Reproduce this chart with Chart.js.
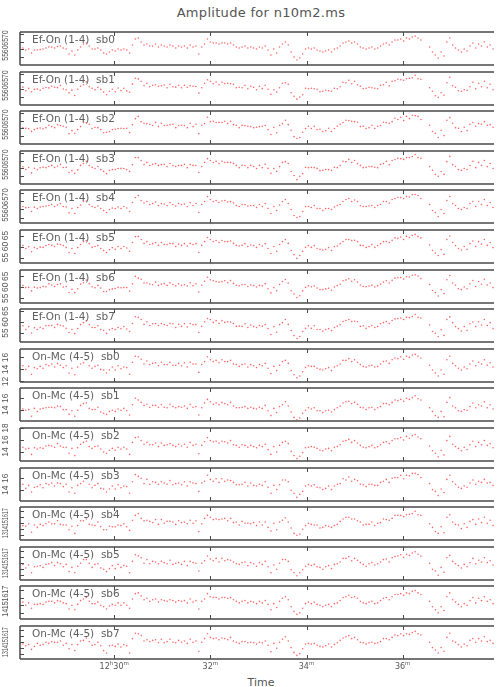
<!DOCTYPE html>
<html>
<head>
<meta charset="utf-8">
<script src="https://cdn.jsdelivr.net/npm/chart.js@4.4.1/dist/chart.umd.min.js"></script>
<style>
    html, body { margin: 0; padding: 0; background: #fff; overflow: hidden; }
    #page { position: relative; width: 498px; height: 687px; }
    #page canvas { position: absolute; left: 0; }
    #title { position: absolute; left: 0; width: 522px; top: 5px; text-align: center;
             font: 13px/15px "DejaVu Sans", sans-serif; color: #555; letter-spacing: 0.3px; }
    #xtitle { position: absolute; left: 0; width: 522px; top: 676px; text-align: center;
              font: 11px/13px "DejaVu Sans", sans-serif; color: #555; }
</style>
</head>
<body>
<div id="page">
    <div id="title">Amplitude for n10m2.ms</div>
    <div id="xtitle">Time</div>
</div>
<script>
// sample times, minutes after 12h
const times = [
    28.10,28.16,28.22,28.28,28.34,28.40,28.46,28.52,28.58,28.64,
    28.70,28.76,28.82,28.88,28.94,29.00,29.06,29.12,29.18,29.24,
    29.30,29.36,29.42,29.48,29.54,29.60,29.66,29.72,29.78,29.84,
    29.90,29.96,30.02,30.08,30.14,30.20,30.26,30.32,30.38,30.44,
    30.50,30.56,30.62,30.68,30.74,30.80,30.86,30.92,30.98,31.04,
    31.10,31.16,31.22,31.28,31.34,31.40,31.46,31.52,31.58,31.64,
    31.70,31.76,31.82,31.88,31.94,32.00,32.06,32.12,32.18,32.24,
    32.30,32.36,32.42,32.48,32.54,32.60,32.66,32.72,32.78,32.84,
    32.90,32.96,33.02,33.08,33.14,33.20,33.26,33.32,33.38,33.44,
    33.50,33.56,33.62,33.68,33.74,33.80,33.86,33.92,33.98,34.04,
    34.10,34.16,34.22,34.28,34.34,34.40,34.46,34.52,34.58,34.64,
    34.70,34.76,34.82,34.88,34.94,35.00,35.06,35.12,35.18,35.24,
    35.30,35.36,35.42,35.48,35.54,35.60,35.66,35.72,35.78,35.84,
    35.90,35.96,36.02,36.08,36.14,36.20,36.26,36.32,36.38,36.44,
    36.50,36.56,36.62,36.68,36.74,36.80,36.86,36.92,36.98,37.04,
    37.10,37.16,37.22,37.28,37.34,37.40,37.46,37.52,37.58,37.64,
    37.70,37.76,37.82,37.88,37.94
];

const efOn0 = [
    60.8,59.5,60.2,57.5,59.5, 59.5,59.8,60.2,60.8,61.5, 61.5,60.8,61.8,62.2,60.8, 60.2,56.8,58.8,56.2,59.5,
    61.5,63.5,64.2,62.2,60.2, 60.2,60.8,59.5,57.5,56.8, 58.2,59.5,58.8,60.2,59.5, 60.2,59.5,57.5,62.8,66.8,
    67.5,64.8,62.8,63.5,62.2, 62.2,63.5,61.5,62.8,62.2, 61.5,62.8,62.2,60.8,62.2, 61.5,62.2,60.8,62.8,61.5,
    62.2,56.8,61.5,63.5,66.8, 64.8,64.2,64.2,63.5,64.2, 64.2,63.5,64.2,62.8,61.5, 60.8,61.5,62.2,60.8,61.5,
    60.8,60.2,61.5,60.8,62.2, 59.5,56.2,60.2,57.5,61.5, 63.5,64.8,62.8,58.2,54.8, 52.8,54.2,56.8,60.2,60.8,
    60.2,60.8,59.5,58.8,58.2, 58.8,59.5,58.2,60.2,60.8, 62.2,64.2,64.8,65.5,64.2, 64.8,63.5,61.5,60.8,60.2,
    60.8,61.5,60.2,60.8,62.2, 63.5,64.2,62.8,64.8,66.2, 66.2,66.8,65.5,67.5,66.8, 68.2,68.8,67.5,66.2,null,
    null,61.5,58.2,56.2,54.2, 58.2,55.5,64.8,67.5,62.8, 60.8,59.5,58.2,60.2,58.8, 62.2,64.2,60.8,63.5,62.2,
    64.8,61.5,62.8,60.2,62.2
];
const efOn1 = [
    61.4,59.0,60.6,58.3,59.9, 60.1,59.3,60.7,61.2,60.9, 62.0,61.3,61.1,62.6,60.2, 59.7,57.6,59.4,55.8,60.0,
    62.0,63.0,64.9,61.7,60.7, 59.6,61.3,59.9,58.1,56.3, 58.7,60.0,58.3,60.8,59.1, 60.7,58.9,58.0,63.4,67.3,
    66.9,65.3,62.3,64.0,61.7, 62.7,63.0,62.0,62.3,62.8, 61.0,63.3,61.7,61.4,62.7, 61.0,62.7,61.3,62.3,62.0,
    61.8,57.4,61.0,64.0,66.3, 65.3,63.7,64.8,63.0,64.7, 63.8,64.0,63.7,63.3,61.0, 61.3,61.0,62.7,60.3,62.0,
    61.3,59.7,62.0,60.4,62.7, 60.0,56.7,59.7,58.1,61.0, 64.0,64.3,63.3,57.7,55.3, 53.4,54.8,56.3,60.7,60.3,
    60.7,60.3,60.0,58.3,58.7, 59.3,59.0,58.7,60.7,60.3, 61.7,64.7,64.3,66.0,63.7, 65.3,63.0,62.0,60.3,60.7,
    61.3,61.0,60.7,60.3,62.7, 63.0,64.7,62.3,65.3,65.7, 66.7,66.3,66.0,67.0,67.3, 67.7,69.3,67.0,66.7,null,
    null,61.0,58.7,55.7,54.7, 57.7,56.0,64.3,68.0,62.3, 61.3,59.0,58.7,59.7,59.3, 61.7,64.7,60.3,64.0,61.7,
    65.3,61.0,63.3,59.7,62.7
];
const efOn2 = [
    60.3,59.9,59.7,57.9,59.1, 59.9,60.2,59.7,60.4,62.0, 61.1,60.4,62.3,61.8,61.3, 60.7,56.4,58.4,56.7,59.1,
    61.1,63.9,63.7,62.7,59.8, 60.7,60.4,59.1,57.0,57.3, 57.8,59.1,59.3,59.8,60.0, 59.8,60.0,57.1,62.4,66.4,
    67.9,64.4,63.3,63.1,62.7, 61.8,63.9,61.1,63.3,61.8, 62.0,62.4,62.7,60.4,61.8, 62.0,61.8,60.4,63.3,61.1,
    62.7,56.4,62.0,63.1,67.3, 64.4,64.7,63.8,63.9,63.8, 64.7,63.1,64.7,62.4,62.0, 60.4,61.9,61.8,61.3,61.1,
    60.4,60.7,61.1,61.3,61.8, 59.1,55.8,60.7,57.0,62.0, 63.1,65.3,62.4,58.7,54.4, 53.2,53.8,57.3,59.8,61.3,
    59.8,61.3,59.1,59.3,57.8, 58.4,60.0,57.8,59.8,61.3, 62.7,63.8,65.3,65.1,64.7, 64.4,64.0,61.1,61.3,59.8,
    60.4,62.0,59.8,61.3,61.8, 64.0,63.8,63.3,64.4,66.7, 65.8,67.3,65.1,67.9,66.4, 68.7,68.4,67.9,65.8,null,
    null,62.0,57.8,56.7,53.8, 58.7,55.1,65.3,67.1,63.3, 60.4,60.0,57.8,60.7,58.4, 62.7,63.8,61.3,63.1,62.7,
    64.4,62.0,62.4,60.7,61.8
];
const efOn3 = [
    61.0,59.2,60.5,56.9,60.0, 59.0,60.3,60.6,60.4,61.2, 61.9,60.5,61.5,62.6,60.5, 60.6,57.2,58.4,56.6,58.9,
    61.9,63.2,64.6,61.8,60.6, 59.8,61.2,59.1,57.9,56.4, 58.6,59.1,59.2,59.8,59.9, 59.8,59.1,57.9,62.4,67.2,
    67.1,65.2,62.4,63.9,61.8, 62.6,63.1,61.9,62.4,62.6, 61.1,63.2,61.8,61.2,61.8, 61.9,62.6,60.4,62.4,61.9,
    61.8,57.2,61.1,63.9,66.4, 65.2,63.8,64.6,63.1,64.6, 63.8,63.9,63.8,63.2,61.9, 60.4,61.9,61.8,60.4,61.9,
    61.2,59.8,61.9,60.4,62.6, 59.9,56.6,59.8,57.9,61.1, 63.9,64.4,63.2,57.8,55.2, 52.4,54.6,56.4,60.6,60.4,
    60.6,60.4,59.9,58.4,58.6, 59.2,59.1,58.6,60.6,60.4, 61.8,64.6,64.4,65.9,63.8, 65.2,63.1,61.9,60.4,60.6,
    61.2,61.1,60.6,60.4,62.6, 63.1,64.6,62.4,65.2,65.8, 66.6,66.4,65.9,67.1,67.2, 67.8,69.2,67.1,66.6,null,
    null,61.1,58.6,55.8,54.6, 57.8,55.9,64.4,67.9,62.4, 61.2,59.1,58.6,59.8,59.2, 61.8,64.6,60.4,63.9,61.8,
    65.2,61.1,63.2,59.8,62.6
];
const efOn4 = [
    61.6,60.9,61.0,58.6,61.2, 60.4,61.3,61.6,61.9,62.2, 62.8,61.6,62.5,63.4,61.6, 61.3,57.8,60.4,57.4,61.0,
    62.5,64.6,64.9,62.8,61.6, 61.0,61.9,60.4,59.2,58.0, 59.8,60.7,60.4,61.3,60.4, 61.6,60.7,58.6,64.0,67.0,
    68.2,65.2,63.7,64.6,62.8, 63.4,64.3,62.2,63.4,63.1, 62.2,64.0,62.8,61.9,63.4, 62.8,63.1,61.6,64.0,62.2,
    63.4,58.0,62.8,64.6,67.6, 65.8,64.6,65.2,64.0,64.9, 65.2,64.3,64.6,63.7,62.2, 61.6,62.8,62.8,61.9,62.2,
    62.2,61.0,62.8,61.6,63.4, 60.4,57.4,61.6,59.2,62.5, 64.6,65.8,63.4,59.8,56.2, 55.0,55.6,58.6,61.6,61.6,
    61.0,62.2,60.4,60.4,59.2, 60.4,60.4,59.8,61.3,62.2, 62.8,64.6,65.8,66.4,64.6, 65.5,64.6,62.2,61.6,61.6,
    61.9,62.2,61.0,62.2,62.8, 64.6,64.6,63.7,65.8,66.4, 67.0,67.0,66.4,67.6,67.3, 68.8,68.8,68.2,66.4,null,
    null,62.8,59.2,58.0,55.6, 59.8,57.4,65.2,67.6,63.4, 62.2,60.4,59.8,61.0,60.4, 63.4,64.6,61.6,64.6,62.8,
    65.8,62.2,64.0,61.0,63.4
];
const efOn5 = [
    60.4,59.1,59.9,57.6,59.5, 59.1,59.7,59.6,60.4,60.9, 60.5,60.0,61.1,60.9,60.4, 59.6,57.3,59.1,56.8,59.5,
    60.9,62.2,62.7,61.3,59.6, 60.0,60.4,59.1,58.2,57.3, 58.6,59.5,58.7,60.0,59.1, 60.0,59.3,57.8,61.8,64.5,
    64.6,63.2,61.4,62.2,60.9, 61.3,61.8,60.5,61.8,60.9, 60.9,61.4,61.3,60.0,61.1, 60.5,61.3,60.2,61.4,60.9,
    61.3,57.3,60.5,62.2,64.1, 63.2,62.3,62.7,61.8,62.7, 62.3,62.2,62.5,61.4,60.5, 60.2,60.5,61.3,60.0,60.7,
    60.4,59.6,60.9,60.2,61.3, 59.1,56.8,60.0,57.8,60.9, 62.2,63.2,61.4,58.2,56.3, 54.6,55.9,57.8,59.6,60.4,
    59.6,60.4,59.1,58.7,58.4, 58.7,59.5,58.2,60.0,60.2, 61.3,62.3,63.2,63.2,62.7, 62.8,62.2,60.5,60.4,59.6,
    60.0,60.9,59.6,60.4,61.3, 62.2,62.3,61.8,62.8,63.9, 63.7,64.3,63.2,64.6,64.1, 65.0,65.5,64.6,63.9,null,
    null,60.7,58.2,57.0,55.9, 58.6,56.4,63.2,64.8,61.8, 60.4,59.1,58.4,60.0,58.7, 61.3,62.5,60.0,62.2,61.1,
    63.2,60.5,61.8,59.5,60.9
];
const efOn6 = [
    60.7,59.8,59.9,58.3,60.0, 59.6,59.8,60.3,60.2,61.5, 61.0,60.3,61.2,61.5,60.1, 60.3,57.6,59.0,57.5,59.3,
    61.4,62.0,63.2,61.6,60.2, 59.7,60.8,59.6,58.0,58.0, 58.9,59.2,59.4,59.9,59.7, 59.8,59.8,58.2,61.5,64.9,
    64.1,63.6,61.9,61.9,61.4, 61.1,62.3,60.8,61.4,61.6, 60.8,62.0,61.2,60.6,61.5, 60.9,61.1,60.5,62.0,60.6,
    61.5,57.8,60.9,62.7,64.5, 63.4,62.9,62.6,62.3,62.5, 62.9,62.0,63.0,61.7,60.9, 60.6,61.1,61.2,60.3,61.0,
    60.7,60.1,60.8,60.6,61.6, 59.3,57.4,59.8,58.4,61.2, 62.6,63.5,61.9,58.4,56.9, 55.3,56.1,58.3,59.9,60.6,
    60.2,60.5,59.6,58.9,58.9, 59.2,59.5,58.6,60.1,60.7, 61.3,62.9,63.3,63.8,62.7, 63.4,62.3,61.0,60.3,60.2,
    60.5,60.9,60.1,60.6,61.4, 62.3,62.9,61.9,63.1,64.1, 64.3,64.4,63.7,64.7,64.6, 65.4,65.6,65.1,63.9,null,
    null,61.2,58.5,57.6,56.0, 58.9,57.1,63.4,65.3,61.9, 60.9,59.3,58.9,60.1,59.3, 61.5,63.0,60.3,62.6,61.3,
    63.6,61.0,61.9,59.8,61.4
];
const efOn7 = [
    58.3,56.6,57.9,55.0,57.4, 56.6,57.6,57.0,58.3,58.4, 58.4,57.5,58.9,58.5,58.2, 57.1,55.2,56.6,54.7,57.0,
    58.8,59.7,60.6,58.8,57.5, 57.5,58.3,56.6,56.1,54.8, 56.5,57.0,56.6,57.5,56.9, 57.9,56.8,55.7,59.3,62.4,
    62.1,61.1,58.9,60.1,58.4, 59.2,59.3,58.4,59.3,58.8, 58.4,59.3,59.2,57.5,59.0, 58.0,59.2,57.7,59.3,58.8,
    58.8,55.2,58.0,60.1,61.6, 61.1,59.8,60.6,59.3,60.6, 59.8,60.1,60.0,59.3,58.0, 58.1,58.0,59.2,57.5,58.6,
    57.9,57.5,58.4,58.1,58.8, 57.0,54.3,57.9,55.3,58.8, 59.7,61.1,58.9,56.1,53.8, 52.5,53.4,55.7,57.1,58.3,
    57.1,58.3,56.6,56.6,55.9, 56.6,57.0,56.1,57.5,58.1, 58.8,60.2,60.7,61.1,60.2, 60.3,60.1,58.0,58.3,57.1,
    57.9,58.4,57.5,57.9,59.2, 59.7,60.2,59.3,60.7,61.4, 61.6,61.8,61.1,62.1,62.0, 62.5,63.4,62.1,61.8,null,
    null,58.6,55.7,54.9,53.4, 56.5,53.9,61.1,62.3,59.7, 57.9,57.0,55.9,57.9,56.2, 59.2,60.0,57.9,60.1,58.6,
    61.1,58.4,59.7,57.0,58.8
];
const onMc0 = [
    14.6,14.0,14.5,13.2,14.3, 14.1,14.5,14.2,14.8,14.6, 14.9,14.4,15.0,14.7,14.3, 14.6,13.4,14.2,13.1,14.4,
    14.9,15.1,15.6,14.6,14.2, 14.5,14.7,14.0,13.9,13.4, 13.9,14.4,13.9,14.6,14.1, 14.4,14.3,13.2,15.2,16.2,
    16.1,15.7,14.9,15.4,14.8, 15.0,15.1,14.6,15.2,14.8, 14.8,15.2,14.7,14.7,15.0, 14.6,15.1,14.4,15.2,14.9,
    14.9,13.5,14.8,15.3,16.1, 15.6,15.3,15.5,15.1,15.6, 15.3,15.3,15.5,14.9,14.8, 14.5,14.8,14.9,14.4,14.8,
    14.6,14.3,14.8,14.6,15.0, 14.2,13.3,14.5,13.8,14.7, 15.3,15.5,15.0,13.8,13.1, 12.6,12.9,13.6,14.3,14.6,
    14.5,14.5,14.2,14.0,13.9, 14.1,14.3,13.8,14.4,14.6, 14.9,15.5,15.5,15.8,15.3, 15.6,15.2,14.8,14.5,14.4,
    14.6,14.7,14.4,14.5,14.9, 15.3,15.4,15.0,15.6,15.9, 15.8,16.1,15.7,16.2,16.0, 16.4,16.5,16.2,15.9,null,
    null,14.7,13.9,13.4,12.9, 13.9,13.2,15.6,16.2,15.0, 14.6,14.2,13.9,14.4,14.1, 14.9,15.4,14.6,15.2,14.9,
    15.6,14.7,15.1,14.4,14.9
];
const onMc1 = [
    14.2,14.0,14.1,13.0,14.3, 13.8,14.2,14.3,14.4,14.5, 14.5,14.4,14.7,14.6,14.1, 14.1,13.3,13.9,13.0,14.0,
    14.8,15.1,15.2,14.3,14.1, 14.1,14.5,13.7,13.5,13.3, 13.8,14.0,13.8,14.2,14.0, 14.3,13.9,13.2,14.9,16.0,
    15.7,15.3,14.8,15.0,14.5, 14.8,14.8,14.5,14.9,14.5, 14.4,15.0,14.6,14.4,14.6, 14.5,14.7,14.3,15.0,14.5,
    14.6,13.2,14.4,15.2,15.8, 15.4,15.0,15.2,14.9,15.3, 15.1,14.9,15.3,14.7,14.4, 14.4,14.5,14.6,14.3,14.5,
    14.3,14.2,14.5,14.3,14.8, 13.9,13.1,14.3,13.6,14.6, 14.9,15.4,14.7,13.7,12.8, 12.4,12.7,13.5,14.0,14.4,
    14.2,14.4,13.9,13.9,13.6, 13.9,14.0,13.7,14.1,14.4, 14.7,15.2,15.4,15.5,15.1, 15.3,15.0,14.5,14.4,14.1,
    14.4,14.5,14.1,14.4,14.6, 15.1,15.1,14.9,15.3,15.7, 15.6,15.8,15.5,16.0,15.8, 16.1,16.4,15.9,15.7,null,
    null,14.4,13.8,13.1,12.8, 13.8,12.9,15.3,16.1,14.7, 14.4,13.9,13.8,14.1,14.0, 14.6,15.2,14.4,14.9,14.7,
    15.4,14.4,14.9,14.2,14.7
];
const onMc2 = [
    14.8,14.5,14.6,13.6,14.7, 14.5,14.7,14.6,15.0,15.1, 15.0,14.8,15.4,15.0,14.8, 14.8,13.8,14.6,13.4,14.7,
    15.3,15.6,15.8,14.9,14.6, 14.9,15.0,14.5,14.0,13.8, 14.3,14.6,14.3,14.8,14.5, 14.8,14.5,13.6,15.6,16.4,
    16.5,15.9,15.3,15.6,15.2, 15.2,15.5,14.9,15.5,15.1, 15.2,15.4,15.1,14.9,15.3, 15.0,15.3,14.8,15.6,15.1,
    15.3,13.7,15.1,15.7,16.4, 15.9,15.7,15.8,15.5,15.8, 15.7,15.5,15.9,15.2,15.1, 14.8,15.2,15.1,14.8,15.1,
    14.9,14.7,15.1,14.9,15.3, 14.4,13.6,14.9,14.0,15.1, 15.6,15.8,15.4,14.1,13.4, 12.9,13.3,13.9,14.7,14.8,
    14.9,14.8,14.6,14.3,14.2, 14.5,14.6,14.2,14.8,14.9, 15.2,15.8,15.9,16.1,15.6, 15.9,15.5,15.1,14.8,14.7,
    14.9,15.1,14.7,14.9,15.2, 15.6,15.7,15.4,15.9,16.2, 16.2,16.4,16.0,16.6,16.3, 16.7,16.9,16.5,16.2,null,
    null,15.0,14.2,13.8,13.2, 14.3,13.5,15.9,16.6,15.3, 14.9,14.6,14.2,14.8,14.4, 15.2,15.8,14.9,15.6,15.2,
    15.9,15.1,15.4,14.7,15.3
];
const onMc3 = [
    15.0,14.3,14.8,13.7,14.5, 14.6,14.9,14.4,15.1,14.9, 15.2,14.7,15.2,15.1,14.6, 15.0,13.7,14.4,13.5,14.8,
    15.1,15.5,15.9,15.0,14.4, 14.8,15.1,14.3,14.2,13.7, 14.2,14.7,14.2,14.9,14.4, 14.7,14.6,13.5,15.4,16.6,
    16.3,16.0,15.1,15.8,15.0, 15.4,15.3,15.0,15.4,15.2, 15.0,15.6,14.9,15.1,15.2, 14.9,15.4,14.7,15.4,15.2,
    15.1,13.8,15.2,15.5,16.5, 15.8,15.5,15.9,15.3,15.9, 15.5,15.7,15.6,15.3,14.9, 14.9,15.0,15.3,14.7,15.2,
    14.8,14.7,15.0,14.8,15.4, 14.5,13.5,14.8,14.1,14.9, 15.7,15.7,15.4,14.0,13.5, 12.8,13.3,13.8,14.7,14.9,
    14.7,14.9,14.5,14.4,14.1, 14.3,14.7,14.1,14.7,15.0, 15.1,15.9,15.7,16.2,15.5, 15.8,15.6,15.0,14.9,14.6,
    15.0,15.0,14.8,14.8,15.3, 15.5,15.8,15.3,16.0,16.1, 16.1,16.5,15.9,16.5,16.4, 16.8,16.8,16.6,16.1,null,
    null,15.1,14.1,13.8,13.1, 14.2,13.6,15.8,16.5,15.4, 15.0,14.5,14.3,14.7,14.5, 15.2,15.7,15.0,15.5,15.3,
    15.8,15.2,15.3,14.8,15.2
];
const onMc4 = [
    14.6,14.5,14.9,13.5,14.7, 14.3,14.8,14.6,14.9,15.2, 14.9,14.9,15.4,14.8,14.7, 14.7,13.9,14.5,13.3,14.6,
    15.4,15.4,15.7,14.8,14.7, 14.6,15.2,14.4,13.9,13.9, 14.5,14.4,14.4,14.7,14.6, 14.9,14.4,13.8,15.5,16.3,
    16.6,15.8,15.4,15.5,15.3, 15.1,15.6,14.8,15.6,15.0, 15.3,15.3,15.2,14.8,15.4, 15.1,15.2,14.9,15.5,15.0,
    15.4,13.6,14.9,15.8,16.3, 16.0,15.6,15.7,15.6,15.7, 15.8,15.4,15.8,15.1,15.2, 14.7,15.3,15.0,15.0,14.9,
    15.1,14.6,15.2,14.7,15.2, 14.3,13.7,15.0,13.9,15.2, 15.5,15.9,15.2,14.2,13.3, 13.0,13.2,14.0,14.6,15.0,
    14.8,14.7,14.7,14.2,14.3, 14.6,14.5,14.3,14.6,14.8, 15.3,15.7,16.0,16.0,15.7, 15.7,15.4,15.2,14.7,14.8,
    14.8,15.2,14.6,15.0,15.1, 15.7,15.6,15.5,15.8,16.3, 16.3,16.3,16.1,16.4,16.5, 16.6,17.0,16.4,16.3,null,
    null,14.9,14.3,13.6,13.3, 14.4,13.4,16.0,16.4,15.2, 14.8,14.7,14.1,14.9,14.3, 15.3,15.6,14.8,15.7,15.1,
    16.0,15.0,15.5,14.6,15.4
];
const onMc5 = [
    14.8,14.2,14.7,13.4,14.4, 14.5,14.6,14.3,14.8,14.9, 15.1,14.6,15.1,14.9,14.4, 14.8,13.6,14.3,13.4,14.5,
    15.0,15.6,15.6,15.0,14.3, 14.8,14.9,14.2,14.0,13.6, 14.1,14.6,14.1,14.8,14.3, 14.6,14.5,13.4,15.3,16.4,
    16.2,15.9,15.0,15.6,14.9, 15.3,15.2,14.9,15.3,15.1, 14.9,15.5,14.8,15.0,15.1, 14.8,15.3,14.6,15.3,15.1,
    15.0,13.7,15.0,15.4,16.2, 15.7,15.4,15.8,15.2,15.8, 15.4,15.6,15.5,15.2,14.9, 14.8,15.1,15.2,14.6,15.1,
    14.9,14.5,15.1,14.8,15.3, 14.4,13.4,14.7,14.0,15.0, 15.6,15.6,15.3,13.9,13.4, 12.9,13.4,13.9,14.5,14.8,
    14.6,14.8,14.4,14.3,14.0, 14.4,14.6,14.1,14.8,14.9, 15.2,15.8,15.8,16.1,15.4, 15.8,15.5,15.1,14.8,14.5,
    14.9,15.1,14.7,14.9,15.2, 15.6,15.7,15.2,15.9,16.1, 16.2,16.4,16.0,16.5,16.3, 16.7,16.9,16.5,16.2,null,
    null,15.0,14.0,13.7,13.0, 14.3,13.5,15.9,16.3,15.3, 14.9,14.6,14.2,14.8,14.4, 15.1,15.8,14.9,15.5,15.2,
    15.9,15.1,15.4,14.7,15.3
];
const onMc6 = [
    15.4,15.0,15.3,14.6,15.1, 15.1,15.2,15.1,15.4,15.5, 15.5,15.3,15.6,15.5,15.3, 15.2,14.5,15.0,14.4,15.1,
    15.6,15.8,16.0,15.5,15.2, 15.2,15.4,15.0,14.8,14.5, 14.9,15.1,15.0,15.3,15.0, 15.3,15.0,14.6,15.8,16.5,
    16.6,16.2,15.7,15.9,15.5, 15.7,15.8,15.4,15.7,15.6, 15.5,15.7,15.6,15.4,15.6, 15.5,15.6,15.3,15.8,15.4,
    15.6,14.5,15.5,15.8,16.5, 16.1,16.0,16.0,15.8,16.0, 16.0,15.9,16.0,15.7,15.5, 15.3,15.5,15.6,15.3,15.5,
    15.4,15.2,15.5,15.3,15.6, 15.1,14.4,15.2,14.7,15.5, 15.9,16.1,15.7,14.8,14.2, 13.8,14.0,14.6,15.2,15.4,
    15.2,15.4,15.1,15.0,14.8, 15.0,15.1,14.8,15.2,15.3, 15.6,16.0,16.1,16.3,16.0, 16.1,15.9,15.5,15.3,15.2,
    15.4,15.5,15.2,15.3,15.6, 15.9,16.0,15.7,16.1,16.4, 16.4,16.5,16.3,16.6,16.5, 16.8,16.9,16.6,16.4,null,
    null,15.5,14.8,14.4,14.0, 14.8,14.3,16.1,16.6,15.7, 15.4,15.1,14.8,15.2,15.0, 15.6,16.0,15.3,15.9,15.6,
    16.1,15.5,15.7,15.2,15.6
];
const onMc7 = [
    14.7,14.4,14.6,13.8,14.3, 14.8,14.5,14.6,15.0,14.8, 15.1,15.0,15.0,15.2,14.5, 14.8,13.9,14.6,13.6,14.6,
    15.2,15.3,15.7,15.1,14.5, 14.6,15.0,14.4,13.6,13.2, 14.4,14.5,14.3,14.7,14.2, 14.6,14.4,13.2,15.6,16.5,
    16.4,16.1,15.2,15.4,15.1, 15.3,15.4,14.9,15.5,14.9, 15.1,15.5,15.0,14.9,15.3, 15.0,15.2,14.8,15.5,15.0,
    15.2,13.5,15.0,15.6,16.4, 15.8,15.6,15.7,15.4,15.7, 15.6,15.4,15.8,15.2,15.0, 14.8,15.1,15.1,14.9,15.0,
    14.9,14.7,15.0,14.9,15.2, 14.5,13.4,14.8,14.0,15.0, 15.5,15.9,15.2,14.1,13.3, 12.8,13.1,13.9,14.7,14.8,
    14.7,14.8,14.5,14.3,14.2, 14.4,14.7,14.2,14.6,14.9, 15.3,15.7,15.9,16.1,15.6, 15.8,15.4,15.0,14.9,14.7,
    14.9,15.0,14.8,14.9,15.1, 15.6,15.6,15.4,15.8,16.2, 16.1,16.4,16.1,16.4,16.3, 16.6,16.8,16.4,16.2,null,
    null,15.0,14.1,13.7,13.2, 14.1,13.5,15.8,16.5,15.2, 15.0,14.6,14.2,14.7,14.4, 15.3,15.6,15.0,15.6,15.2,
    15.9,15.1,15.3,14.8,15.3
];

const panelLabels = [
    'Ef-On (1-4)  sb0', 'Ef-On (1-4)  sb1', 'Ef-On (1-4)  sb2', 'Ef-On (1-4)  sb3',
    'Ef-On (1-4)  sb4', 'Ef-On (1-4)  sb5', 'Ef-On (1-4)  sb6', 'Ef-On (1-4)  sb7',
    'On-Mc (4-5)  sb0', 'On-Mc (4-5)  sb1', 'On-Mc (4-5)  sb2', 'On-Mc (4-5)  sb3',
    'On-Mc (4-5)  sb4', 'On-Mc (4-5)  sb5', 'On-Mc (4-5)  sb6', 'On-Mc (4-5)  sb7'
];
const panelSeries = [efOn0, efOn1, efOn2, efOn3, efOn4, efOn5, efOn6, efOn7,
                     onMc0, onMc1, onMc2, onMc3, onMc4, onMc5, onMc6, onMc7];
const yMins = [49.5, 49.5, 49.5, 49.5, 51.7, 52.5, 52.8, 50.9,
               11.9, 12.2, 12.5, 12.2, 12.2, 12.2, 13.2, 12.2];
const yMaxs = [71.5, 71.5, 71.5, 71.5, 71.5, 67.5, 67.8, 65.9,
               17.4, 17.7, 18.0, 17.7, 17.7, 17.7, 17.5, 17.7];
const yTickValues = [
    [55, 60, 65, 70], [55, 60, 65, 70], [55, 60, 65, 70], [55, 60, 65, 70],
    [55, 60, 65, 70], [55, 60, 65], [55, 60, 65], [55, 60, 65],
    [12, 14, 16], [14, 16], [14, 16, 18], [14, 16],
    [13, 14, 15, 16, 17], [13, 14, 15, 16, 17], [14, 15, 16, 17], [13, 14, 15, 16, 17]
];
const xTicks = [30, 32, 34, 36];
const xTickLabels = ['12^h30^m', '32^m', '34^m', '36^m'];
const timeMin = 28.04;
const timeMax = 37.90;

// layout of the stacked panels
const firstPanelTop = 32;
const panelStep = 39.6;
const panelHeight = 33;
const pageHeight = 687;

// split '12^h30^m' into normal and superscript pieces
function labelPieces(label) {
    const pieces = [];
    let buf = '';
    for (let k = 0; k < label.length; k++) {
        if (label[k] === '^') {
            if (buf) pieces.push({ text: buf, sup: false });
            buf = '';
            pieces.push({ text: label[k + 1], sup: true });
            k++;
        } else {
            buf += label[k];
        }
    }
    if (buf) pieces.push({ text: buf, sup: false });
    return pieces;
}

function drawTimeLabels(ctx, xScale, area) {
    const mainFont = '8px "DejaVu Sans"';
    const supFont = '5.5px "DejaVu Sans"';
    ctx.textAlign = 'left';
    ctx.textBaseline = 'alphabetic';
    xTicks.forEach((t, k) => {
        const pieces = labelPieces(xTickLabels[k]);
        let width = 0;
        pieces.forEach(p => {
            ctx.font = p.sup ? supFont : mainFont;
            p.w = ctx.measureText(p.text).width;
            width += p.w;
        });
        let px = xScale.getPixelForValue(t) - width / 2;
        const base = area.bottom + 9.5;
        pieces.forEach(p => {
            ctx.font = p.sup ? supFont : mainFont;
            ctx.fillText(p.text, px, p.sup ? base - 3.5 : base);
            px += p.w;
        });
    });
}

const panelFrame = {
    id: 'panelFrame',
    afterDatasetsDraw(chart) {
        const i = chart.options.plugins.panelFrame.index;
        const { ctx, chartArea: a } = chart;
        const x = chart.scales.x;
        const y = chart.scales.y;
        ctx.save();

        // box: top, bottom and left edges
        ctx.strokeStyle = '#4a4a4a';
        ctx.lineWidth = 1.5;
        ctx.beginPath();
        ctx.moveTo(a.left, a.top); ctx.lineTo(a.right, a.top);
        ctx.moveTo(a.left, a.bottom); ctx.lineTo(a.right, a.bottom);
        ctx.moveTo(a.left, a.top); ctx.lineTo(a.left, a.bottom);
        ctx.stroke();

        // inward ticks
        ctx.lineWidth = 1;
        ctx.beginPath();
        xTicks.forEach(t => {
            const px = Math.round(x.getPixelForValue(t)) + 0.5;
            ctx.moveTo(px, a.top); ctx.lineTo(px, a.top + 4);
            ctx.moveTo(px, a.bottom); ctx.lineTo(px, a.bottom - 4);
        });
        const ticks = yTickValues[i];
        ticks.forEach(v => {
            const py = Math.round(y.getPixelForValue(v)) + 0.5;
            ctx.moveTo(a.left, py); ctx.lineTo(a.left + 4, py);
        });
        ctx.stroke();

        // rotated y labels, squeezed when they crowd
        ctx.fillStyle = '#555';
        ctx.font = '8.5px "Liberation Sans"';
        const gap = ticks.length > 1
            ? Math.abs(y.getPixelForValue(ticks[1]) - y.getPixelForValue(ticks[0])) : 99;
        const w = ctx.measureText(String(ticks[0])).width;
        const squeeze = Math.min(1, (gap + 0.3) / w);
        ticks.forEach(v => {
            ctx.save();
            ctx.translate(5.5, y.getPixelForValue(v));
            ctx.rotate(-Math.PI / 2);
            ctx.scale(squeeze, 1);
            ctx.textAlign = 'center';
            ctx.textBaseline = 'middle';
            ctx.fillText(String(v), 0, 0);
            ctx.restore();
        });

        // panel name
        ctx.fillStyle = '#606060';
        ctx.font = '10.5px "DejaVu Sans"';
        ctx.textAlign = 'left';
        ctx.textBaseline = 'middle';
        ctx.fillText(panelLabels[i], a.left + 12, a.top + 8);

        if (i === panelLabels.length - 1) {
            ctx.fillStyle = '#555';
            drawTimeLabels(ctx, x, a);
        }
        ctx.restore();
    }
};

const page = document.getElementById('page');

panelSeries.forEach((vals, i) => {
    const top = Math.round(firstPanelTop + i * panelStep);
    const last = i === panelSeries.length - 1;
    const padBottom = last ? pageHeight - top - panelHeight : 4;
    const canvas = document.createElement('canvas');
    canvas.width = 498;
    canvas.height = 4 + panelHeight + padBottom;
    canvas.style.top = (top - 4) + 'px';
    page.appendChild(canvas);

    const points = times
        .map((t, k) => ({ x: t, y: vals[k] }))
        .filter(p => p.y !== null);

    new Chart(canvas, {
        type: 'scatter',
        data: {
            datasets: [{
                data: points,
                pointRadius: 0.8,
                pointBorderWidth: 0,
                pointBackgroundColor: 'rgba(255, 50, 50, 0.75)'
            }]
        },
        options: {
            responsive: false,
            animation: false,
            devicePixelRatio: 1,
            events: [],
            layout: { padding: { left: 20, right: 0, top: 4, bottom: padBottom } },
            scales: {
                x: { type: 'linear', min: timeMin, max: timeMax, display: false },
                y: { type: 'linear', min: yMins[i], max: yMaxs[i], display: false }
            },
            plugins: {
                legend: { display: false },
                tooltip: { enabled: false },
                panelFrame: { index: i }
            }
        },
        plugins: [panelFrame]
    });
});
</script>
</body>
</html>
